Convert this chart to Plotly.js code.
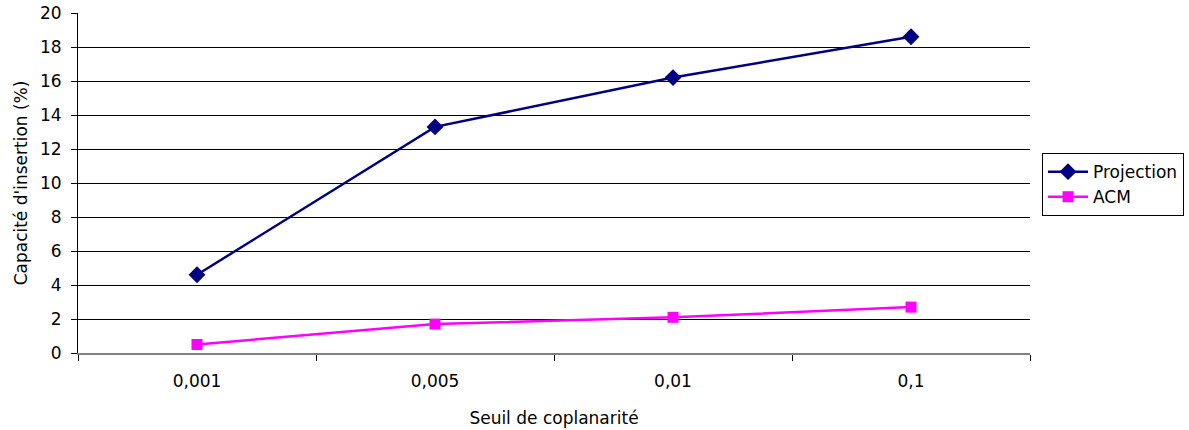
<!DOCTYPE html>
<html><head><meta charset="utf-8">
<script src="https://cdn.plot.ly/plotly-3.0.1.min.js"></script>
<style>html,body{margin:0;padding:0;background:#fff}#chart{width:1189px;height:430px}</style>
</head><body><div id="chart"></div>
<script>
const categories = ["0,001", "0,005", "0,01", "0,1"];
const projection = [4.6, 13.3, 16.2, 18.6];
const acm = [0.5, 1.7, 2.1, 2.7];
const yTicks = [0, 2, 4, 6, 8, 10, 12, 14, 16, 18, 20];

const font = {family: "DejaVu Sans, Arial, sans-serif", color: "#000"};
const traces = [
  {x: categories, y: projection, name: "Projection", type: "scatter", mode: "lines+markers",
   line: {color: "#000080", width: 2.5}, marker: {symbol: "diamond", size: 13, color: "#000080"}},
  {x: categories, y: acm, name: "ACM", type: "scatter", mode: "lines+markers",
   line: {color: "#FF00FF", width: 2.5}, marker: {symbol: "square", size: 11, color: "#FF00FF"}}
];
const layout = {
  width: 1189, height: 430,
  margin: {l: 78, r: 159, t: 13, b: 77, autoexpand: false},
  paper_bgcolor: "#fff", plot_bgcolor: "#fff",
  font: Object.assign({size: 17}, font),
  showlegend: true,
  legend: {xref: "container", yref: "container", x: 0.8764, y: 0.644, xanchor: "left", yanchor: "top",
           bordercolor: "#000", borderwidth: 1,
           font: Object.assign({size: 17}, font), tracegroupgap: 0, itemwidth: 40},
  xaxis: {type: "category", range: [-0.5, 3.5], tickson: "boundaries", ticks: "outside", ticklen: 6,
          tickcolor: "#000", showgrid: false, showline: true, linecolor: "#808080", linewidth: 1.5,
          ticklabelstandoff: 12, automargin: false,
          tickfont: Object.assign({size: 17}, font),
          title: {text: "Seuil de coplanarité", font: Object.assign({size: 17}, font), standoff: 22}},
  yaxis: {range: [0, 20], tickvals: yTicks, ticks: "outside", ticklen: 6, tickcolor: "#000",
          showgrid: true, gridcolor: "#000", gridwidth: 1, showline: true, linecolor: "#000", linewidth: 1,
          zeroline: false, ticklabelstandoff: 6, automargin: false, tickfont: Object.assign({size: 17}, font),
          title: {text: "Capacité d'insertion (%)", font: Object.assign({size: 17}, font), standoff: 8}}
};
Plotly.newPlot("chart", traces, layout, {displayModeBar: false});
</script></body></html>
